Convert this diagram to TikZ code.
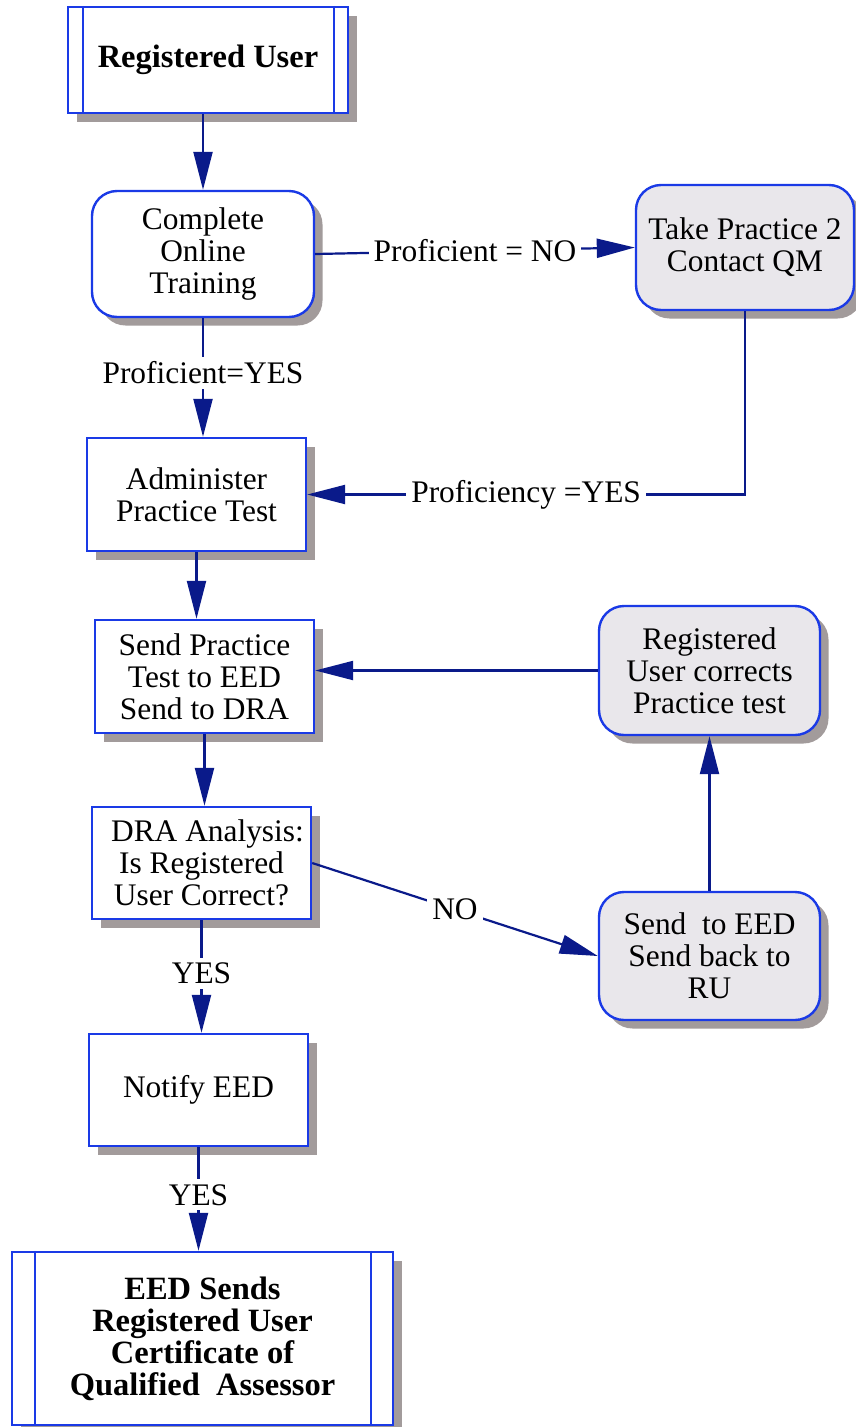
\documentclass[tikz,border=0pt]{standalone}
\usepackage{fontspec}
\setmainfont{Liberation Serif}
\usetikzlibrary{arrows.meta,shadows,calc}
\definecolor{boxblue}{RGB}{26,58,230}
\definecolor{arrnavy}{RGB}{10,26,138}
\definecolor{shadowgray}{RGB}{162,155,155}
\definecolor{boxfill}{RGB}{233,231,235}
\tikzset{
  base/.style={draw=boxblue, line width=2.4pt, align=center, inner sep=0pt,
    font=\fontsize{31.4}{32}\selectfont,
    drop shadow={shadow xshift=8.5pt, shadow yshift=-8.5pt, fill=shadowgray, opacity=1}},
  sqbox/.style={base, fill=white},
  rbox/.style={base, fill=white, rounded corners=25pt},
  gbox/.style={base, fill=boxfill, rounded corners=25pt},
  termbox/.style={base, fill=white, font=\fontsize{32.5}{32}\selectfont\bfseries},
  innerline/.style={draw=boxblue, line width=2.4pt},
  arr/.style={draw=arrnavy, line width=2.2pt, -{Triangle[length=38pt,width=19pt]}},
  lbl/.style={fill=white, inner sep=5pt, text=black, font=\fontsize{31.4}{32}\selectfont}
}
\begin{document}
\begin{tikzpicture}[x=1pt,y=-1pt]
\useasboundingbox (0,0) rectangle (856,1427);
% nodes
\node[termbox, minimum width=280pt, minimum height=106pt] (ru) at (208,60) {Registered User};
\node[rbox, minimum width=222pt, minimum height=126pt] (cot) at (203,254) {Complete\\Online\\Training};
\node[gbox, minimum width=218pt, minimum height=125pt] (tp2) at (745,247.5) {Take Practice 2\\Contact QM};
\node[sqbox, minimum width=219pt, minimum height=113pt] (adm) at (196.5,494.5) {Administer\\Practice Test};
\node[sqbox, minimum width=219pt, minimum height=113pt] (spt) at (204.5,676.5) {Send Practice\\Test to EED\\Send to DRA};
\node[gbox, minimum width=221pt, minimum height=129pt] (ruc) at (709.5,670.5) {Registered\\User corrects\\Practice test};
\node[sqbox, minimum width=219pt, minimum height=112pt] (dra) at (201.5,863) {\hspace*{12pt}DRA Analysis:\\Is Registered\\User Correct?};
\node[gbox, minimum width=221pt, minimum height=128pt] (ste) at (709.5,956) {Send~~to EED\\Send back to\\RU};
\node[sqbox, minimum width=219pt, minimum height=112pt] (nt) at (198.5,1090) {Notify EED};
\node[termbox, minimum width=381pt, minimum height=173pt] (eed) at (202.5,1338.5) {EED Sends\\Registered User\\Certificate of\\Qualified~~Assessor};
% inner vertical lines of terminal boxes
\draw[innerline] ([xshift=16pt]ru.north west) -- ([xshift=16pt]ru.south west);
\draw[innerline] ([xshift=-15pt]ru.north east) -- ([xshift=-15pt]ru.south east);
\draw[innerline] ([xshift=24pt]eed.north west) -- ([xshift=24pt]eed.south west);
\draw[innerline] ([xshift=-23pt]eed.north east) -- ([xshift=-23pt]eed.south east);
% connectors
\draw[arr] (ru.south -| cot.north) -- (cot.north);
\draw[arr] (cot.east) -- node[lbl]{Proficient = NO} (tp2.west);
\draw[arr] (cot.south) -- node[lbl, pos=0.46]{Proficient=YES} (cot.south |- adm.north);
\draw[arr] (tp2.south) |- node[lbl, pos=0.75]{Proficiency =YES} (adm.east);
\draw[arr] (adm.south) -- (adm.south |- spt.north);
\draw[arr] (ruc.west) -- (ruc.west -| spt.east);
\draw[arr] (spt.south) -- (spt.south |- dra.north);
\draw[arr] (dra.east) -- node[lbl]{NO} (ste.west);
\draw[arr] (ste.north) -- (ruc.south);
\draw[arr] (dra.south) -- node[lbl, pos=0.47]{YES} (dra.south |- nt.north);
\draw[arr] (nt.south) -- node[lbl, pos=0.46]{YES} (nt.south |- eed.north);
\end{tikzpicture}
\end{document}
